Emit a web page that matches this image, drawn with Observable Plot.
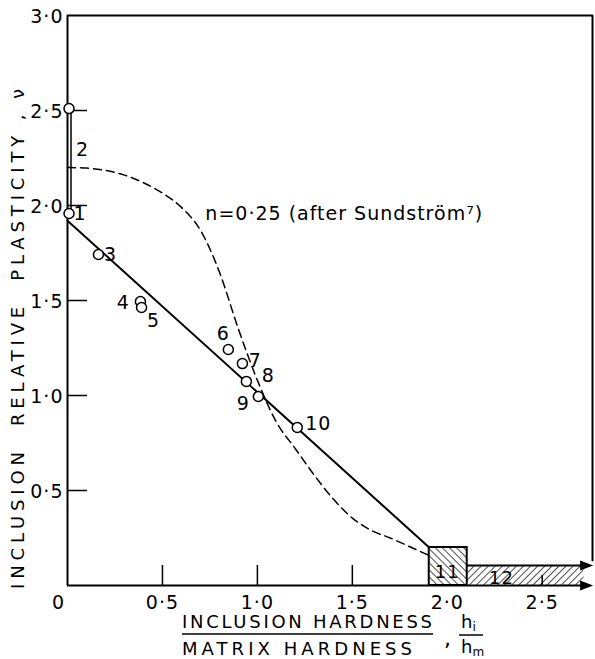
<!DOCTYPE html>
<html><head><meta charset="utf-8">
<script src="https://cdn.jsdelivr.net/npm/d3@7"></script>
<script src="https://cdn.jsdelivr.net/npm/@observablehq/plot@0.6"></script>
<style>
html,body{margin:0;padding:0;background:#fff;}
svg text{font-family:"DejaVu Sans",sans-serif;}
</style>
</head><body>
<div id="chart"></div>
<script>
// ---- data ----
const xTicks = [0.5, 1.0, 1.5, 2.0, 2.5];
const xTickLabels = ["0·5", "1·0", "1·5", "2·0", "2·5"];
const yTicks = [0.5, 1.0, 1.5, 2.0, 2.5, 3.0];
const yTickLabels = ["0·5", "1·0", "1·5", "2·0", "2·5", "3·0"];

// inclusion data points
const ptX = [0.008, 0.008, 0.163, 0.384, 0.39, 0.847, 0.921, 0.942, 1.005, 1.21];
const ptY = [2.51, 1.958, 1.742, 1.495, 1.463, 1.242, 1.168, 1.074, 0.995, 0.832];
const ptLabel = ["", "1", "3", "4", "5", "6", "7", "9", "8", "10"];
const ptLabelDx = [0, 11, 12, -17, 12, -5, 13, -3, 10, 21];
const ptLabelDy = [0, 0, 0, 1, 13, -16, -3, 22, -21, -4];

// linear fit line
const fitX = [0, 1.905];
const fitY = [1.92, 0.2];

// range of inclusion 2 (double line)
const range2 = [1.958, 2.51];

// Sundström curve n = 0.25
const sunX = [0, 0.1, 0.2, 0.3, 0.4, 0.5, 0.6, 0.7, 0.8, 0.9, 1.0, 1.1, 1.2, 1.3, 1.4, 1.5, 1.6, 1.7, 1.8, 1.9];
const sunY = [2.2, 2.197, 2.185, 2.16, 2.12, 2.065, 1.99, 1.87, 1.65, 1.35, 1.08, 0.86, 0.72, 0.58, 0.455, 0.355, 0.29, 0.25, 0.205, 0.16];

// hatched bands (inclusions 11 and 12)
const bandX1 = [1.905, 2.105];
const bandX2 = [2.105, 2.72];
const bandTop = [0.2, 0.105];
const bandLabel = ["11", "12"];
const bandLabelX = [2.0, 2.285];
const bandLabelY = [0.068, 0.04];

const arrowTipX = 2.768;
const arrowY = [0, 0.105];
const xEnd = 2.77;

// ---- build ----
const TICK = 20 / 190;
const pts = ptX.map((x, i) => ({x, y: ptY[i], label: ptLabel[i], dx: ptLabelDx[i], dy: ptLabelDy[i]}));
const sun = sunX.map((x, i) => ({x, y: sunY[i]}));
const bands = bandX1.map((x1, i) => ({x1, x2: bandX2[i], y1: 0, y2: bandTop[i]}));
const arrowHead = {
  draw(ctx, size) {
    const k = Math.sqrt(size / Math.PI) / 5;
    ctx.moveTo(0, 0);
    ctx.lineTo(-13 * k, -5 * k);
    ctx.lineTo(-13 * k, 5 * k);
    ctx.closePath();
  }
};

const chart = Plot.plot({
  width: 595, height: 659,
  marginLeft: 67, marginRight: 2, marginTop: 15, marginBottom: 74,
  x: {domain: [0, xEnd], axis: null},
  y: {domain: [0, 3], axis: null},
  style: {fontFamily: "DejaVu Sans", fontSize: "19px", background: "white", color: "black", letterSpacing: "1px"},
  marks: [
    // ticks (inward) under the bands
    Plot.ruleX(xTicks.slice(0, 4), {y1: 0, y2: TICK, strokeWidth: 1.5}),
    Plot.rect(bands.slice(1), {x1: "x1", x2: "x2", y1: "y1", y2: "y2", fill: "url(#hatchB)"}),
    Plot.rect(bands.slice(0, 1), {x1: "x1", x2: "x2", y1: "y1", y2: "y2", fill: "url(#hatchA)", stroke: "black", strokeWidth: 2}),
    Plot.ruleX(xTicks.slice(4), {y1: 0, y2: TICK / 2, strokeWidth: 1.5}),
    Plot.text(bandLabel, {x: bandLabelX, y: bandLabelY, text: d => d, fontSize: 18}),
    // axes and frame
    Plot.ruleX([0], {y1: 0, y2: 3, strokeWidth: 2}),
    Plot.ruleY([0], {x1: 0, x2: 2.74, strokeWidth: 2}),
    Plot.ruleY([3], {x1: 0, x2: xEnd, strokeWidth: 2}),
    Plot.ruleX([xEnd], {y1: 0.125, y2: 3, strokeWidth: 2, dx: -1}),
    Plot.ruleY([bandTop[1]], {x1: bandX1[1], x2: 2.74, strokeWidth: 2}),
    Plot.dot(arrowY, {x: arrowTipX, y: d => d, r: 5, symbol: arrowHead, fill: "black", stroke: "none"}),
    Plot.ruleY(yTicks.slice(0, 5), {x1: 0, x2: TICK, strokeWidth: 1.5}),
    Plot.text(yTickLabels, {x: 0, y: yTicks, text: d => d, dx: -4, dy: 1, textAnchor: "end"}),
    Plot.text(xTickLabels, {x: xTicks, y: 0, text: d => d, dy: 17}),
    Plot.text(["0"], {x: 0, y: 0, text: d => d, dx: -9, dy: 17}),
    // range of inclusion 2
    Plot.ruleX([0], {y1: range2[0], y2: range2[1], dx: 3.5, strokeWidth: 1.5}),
    Plot.text(["2"], {x: 0, y: 2.29, text: d => d, dx: 15}),
    // Sundström curve
    Plot.line(sun, {x: "x", y: "y", curve: "monotone-x", strokeDasharray: "8,5", strokeWidth: 1.5}),
    Plot.text(["n=0·25 (after Sundström⁷)"], {x: 0.726, y: 1.958, text: d => d, textAnchor: "start"}),
    // fit line
    Plot.line(fitX.map((x, i) => ({x, y: fitY[i]})), {x: "x", y: "y", strokeWidth: 2}),
    // data points
    Plot.dot(pts, {x: "x", y: "y", r: 5, fill: "white", stroke: "black", strokeWidth: 1.5}),
    ...pts.filter(p => p.label).map(p => Plot.text([p], {x: "x", y: "y", text: "label", dx: p.dx, dy: p.dy}))
  ]
});

document.getElementById("chart").appendChild(chart);
const svg = d3.select(chart);

// hatch patterns
const defs = svg.insert("defs", ":first-child");
function hatch(id, angle) {
  const p = defs.append("pattern").attr("id", id).attr("patternUnits", "userSpaceOnUse")
    .attr("width", 5).attr("height", 5).attr("patternTransform", `rotate(${angle})`);
  p.append("rect").attr("width", 5).attr("height", 5).attr("fill", "white");
  p.append("line").attr("x1", 0).attr("y1", 0).attr("x2", 0).attr("y2", 5)
    .attr("stroke", "black").attr("stroke-width", 1.4);
}
hatch("hatchA", -45);
hatch("hatchB", 45);

// axis titles
const g = svg.append("g").attr("font-family", "DejaVu Sans").attr("font-size", 18)
  .attr("fill", "black").attr("text-anchor", "start").style("letter-spacing", "0px");
g.append("text").attr("transform", "translate(24,339) rotate(-90)").attr("text-anchor", "middle")
  .attr("textLength", 500).attr("lengthAdjust", "spacing")
  .text("INCLUSION  RELATIVE  PLASTICITY , ν");
g.append("text").attr("x", 182).attr("y", 628).attr("textLength", 250).attr("lengthAdjust", "spacing")
  .text("INCLUSION HARDNESS");
g.append("line").attr("x1", 182).attr("x2", 433).attr("y1", 634).attr("y2", 634).attr("stroke", "black").attr("stroke-width", 1.5);
g.append("text").attr("x", 182).attr("y", 655).attr("textLength", 230).attr("lengthAdjust", "spacing")
  .text("MATRIX HARDNESS");
g.append("text").attr("x", 444).attr("y", 646).attr("font-size", 22).text(",");
const hi = g.append("text").attr("x", 461).attr("y", 628);
hi.append("tspan").text("h");
hi.append("tspan").attr("font-size", 12).attr("dy", 3).text("i");
g.append("line").attr("x1", 459).attr("x2", 483).attr("y1", 635).attr("y2", 635).attr("stroke", "black").attr("stroke-width", 1.5);
const hm = g.append("text").attr("x", 461).attr("y", 653);
hm.append("tspan").text("h");
hm.append("tspan").attr("font-size", 12).attr("dy", 3).text("m");
</script>
</body></html>
